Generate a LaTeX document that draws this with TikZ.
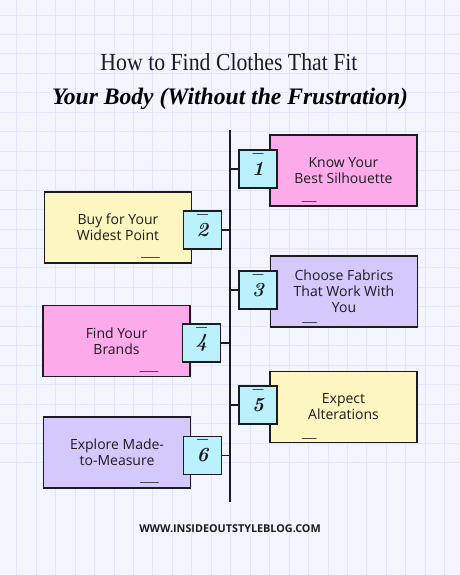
\documentclass[tikz,border=0pt]{standalone}
\usepackage{fontspec}
\usepackage{graphicx}
\newfontfamily\bodyfont{Open Sans}
\newfontfamily\headfont{Liberation Serif}
\usetikzlibrary{positioning,calc}
\definecolor{paper}{RGB}{243,245,254}
\definecolor{gridline}{RGB}{226,230,250}
\definecolor{pinkbox}{RGB}{253,170,235}
\definecolor{yellowbox}{RGB}{254,246,192}
\definecolor{lilacbox}{RGB}{212,200,252}
\definecolor{numbox}{RGB}{187,240,253}
\definecolor{ink}{RGB}{28,28,30}
\tikzset{stepcard/.style={draw=ink,line width=1.8pt,minimum width=147pt,minimum height=71pt,inner sep=0pt,align=center,text=ink,font=\bodyfont\fontsize{14}{16}\selectfont}}
\tikzset{numcard/.style={draw=ink,fill=numbox,line width=1.5pt,minimum size=38pt,inner sep=0pt,text=ink,font=\fontsize{20}{20}\selectfont\bfseries\itshape}}
\tikzset{tick/.style={draw=ink!80,line width=1.1pt,line cap=round}}

\begin{document}
\begin{tikzpicture}[x=1pt,y=-1pt]
    % paper and grid
    \fill[paper] (0,0) rectangle (460,575);
    \useasboundingbox (0,0) rectangle (460,575);
    \foreach \k in {0,...,23} {
      \draw[gridline,line width=0.8pt] (16.7+19.45*\k,0) -- (16.7+19.45*\k,575);
      \draw[gridline,line width=0.8pt] (0,15+19.45*\k) -- (460,15+19.45*\k);
    }

    % title
    \node[anchor=base,inner sep=0pt,text=ink] (title) at (229,70.5)
      {\resizebox{257pt}{17pt}{\headfont\fontsize{22}{22}\selectfont How to Find Clothes That Fit}};
    \node[anchor=base,inner sep=0pt,text=black] (subtitle) at (230,105)
      {\resizebox{356pt}{!}{\headfont\fontsize{22}{22}\selectfont\bfseries\itshape Your Body (Without the Frustration)}};

    % spine
    \coordinate (top) at (230,130);
    \coordinate (bottom) at (230,502);
    \draw[ink,line width=2.2pt] (top) -- (bottom);

    % cards
    \node[stepcard,fill=pinkbox]   (k1) at (343.5,170.5) {Know Your\\Best Silhouette};
    \node[stepcard,fill=yellowbox] (k2) at (118,227.5)   {Buy for Your\\Widest Point};
    \node[stepcard,fill=lilacbox]  (k3) at (344,291.5)   {Choose Fabrics\\That Work With\\You};
    \node[stepcard,fill=pinkbox]   (k4) at (116.5,341)   {Find Your\\Brands};
    \node[stepcard,fill=yellowbox] (k5) at (343.5,407)   {Expect\\Alterations};
    \node[stepcard,fill=lilacbox]  (k6) at (117,452.5)   {Explore Made-\\to-Measure};

    % numbers
    \node[numcard] (n1) at (258,169)   {1};
    \node[numcard] (n2) at (202.5,230) {2};
    \node[numcard] (n3) at (258,290)   {3};
    \node[numcard] (n4) at (201.5,343) {4};
    \node[numcard] (n5) at (258,405)   {5};
    \node[numcard] (n6) at (202.5,455.5) {6};

    \draw[ink,line width=1.5pt]
      (n1.west) -- (n1.west -| top)
      (n2.east) -- (n2.east -| top)
      (n3.west) -- (n3.west -| top)
      (n4.east) -- (n4.east -| top)
      (n5.west) -- (n5.west -| top)
      (n6.east) -- (n6.east -| top);

    % little strokes
    \draw[tick] ($(n1.north)+(-5,4)$) -- ($(n1.north)+(5,4)$);
    \draw[tick] ($(n2.north)+(-5,4)$) -- ($(n2.north)+(5,4)$);
    \draw[tick] ($(n3.north)+(-5,4)$) -- ($(n3.north)+(5,4)$);
    \draw[tick] ($(n4.north)+(-5,4)$) -- ($(n4.north)+(5,4)$);
    \draw[tick] ($(n5.north)+(-5,4)$) -- ($(n5.north)+(5,4)$);
    \draw[tick] ($(n6.north)+(-5,4)$) -- ($(n6.north)+(5,4)$);

    \draw[tick] ($(k1.south west)+(33,-5)$) -- ($(k1.south west)+(47,-5)$);
    \draw[tick] ($(k3.south west)+(33,-5)$) -- ($(k3.south west)+(47,-5)$);
    \draw[tick] ($(k5.south west)+(33,-5)$) -- ($(k5.south west)+(47,-5)$);
    \draw[tick] ($(k2.south east)+(-51,-6)$) -- ($(k2.south east)+(-33,-6)$);
    \draw[tick] ($(k4.south east)+(-51,-6)$) -- ($(k4.south east)+(-33,-6)$);
    \draw[tick] ($(k6.south east)+(-51,-6)$) -- ($(k6.south east)+(-33,-6)$);

    % footer
    \node[font=\bodyfont\bfseries\fontsize{10.8}{11}\selectfont,text=ink] (site) at (230,529) {WWW.INSIDEOUTSTYLEBLOG.COM};
\end{tikzpicture}
\end{document}
